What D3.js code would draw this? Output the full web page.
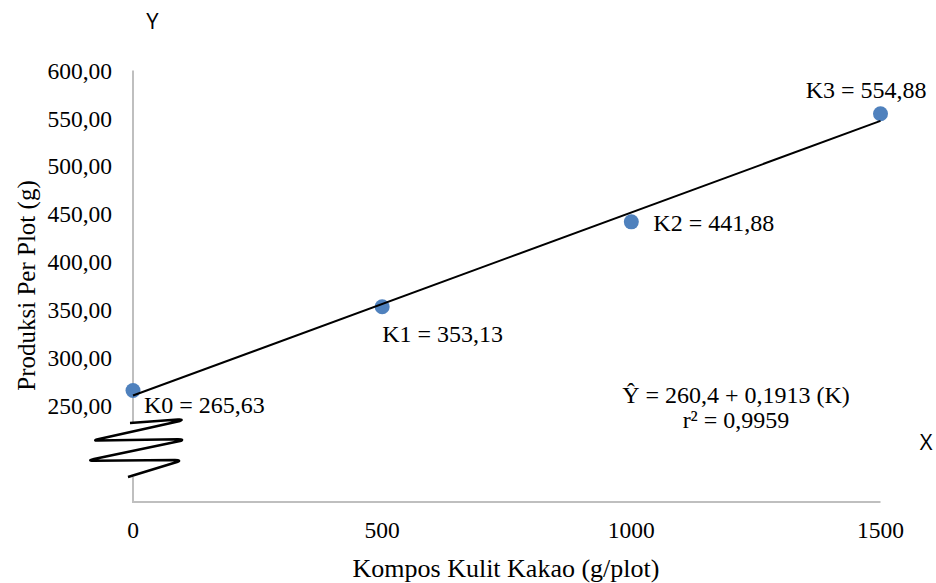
<!DOCTYPE html>
<html>
<head>
<meta charset="utf-8">
<script src="https://cdn.jsdelivr.net/npm/d3@7"></script>
<style>
  html, body { margin: 0; padding: 0; background: #fff; }
  svg { display: block; }
  .serif { font-family: "Liberation Serif", "Times New Roman", serif; fill: #000; }
  .sans { font-family: "Open Sans", "Liberation Sans", Arial, sans-serif; fill: #000; }
</style>
</head>
<body>
<svg id="chart" width="936" height="583"></svg>
<script>
// ---- data ----
const treatments = ["K0", "K1", "K2", "K3"];
const doses = [0, 500, 1000, 1500];
const production = [265.63, 353.13, 441.88, 554.88];
const productionLabels = ["265,63", "353,13", "441,88", "554,88"];
const yTicks = [250, 300, 350, 400, 450, 500, 550, 600];
const xTicks = [0, 500, 1000, 1500];
const regression = [260.4, 0.1913]; // intercept, slope
const equationText = ["Ŷ = 260,4 + 0,1913 (K)", "r² = 0,9959"];

const svg = d3.select("#chart");

const x = d3.scaleLinear().domain([0, 1500]).range([133, 880.5]);
const y = d3.scaleLinear().domain([250, 600]).range([405.5, 70.5]);
const axisY = 502;           // pixel position of the (broken) x-axis baseline
const breakTop = 422, breakBottom = 477;
const fmt = v => d3.format(".2f")(v).replace(".", ",");

// ---- axes (gray lines) ----
const axisColor = "#bfbfbf";
svg.append("line").attr("x1", x(0)).attr("x2", x(0))
  .attr("y1", y(600)).attr("y2", breakTop)
  .attr("stroke", axisColor).attr("stroke-width", 2);
svg.append("line").attr("x1", x(0)).attr("x2", x(0))
  .attr("y1", breakBottom).attr("y2", axisY + 1)
  .attr("stroke", axisColor).attr("stroke-width", 2);
svg.append("line").attr("x1", x(0)).attr("x2", x(1500))
  .attr("y1", axisY).attr("y2", axisY)
  .attr("stroke", axisColor).attr("stroke-width", 2);

// axis break squiggle
const ax = x(0);
const sq = `M${ax-3},${breakTop+1} L${ax+45},${breakTop-2.5} Q${ax+51},${breakTop-3} ${ax+47},${breakTop-1}
 L${ax-34},${breakTop+17} Q${ax-41},${breakTop+18.5} ${ax-35},${breakTop+18.5}
 L${ax+45},${breakTop+17.3} Q${ax+52},${breakTop+17.5} ${ax+47},${breakTop+19}
 L${ax-39},${breakTop+37} Q${ax-46},${breakTop+38.5} ${ax-40},${breakTop+38.7}
 L${ax+42},${breakTop+38} Q${ax+49},${breakTop+38.3} ${ax+44},${breakTop+40}
 L${ax-5},${breakBottom}`;
svg.append("path").attr("d", sq).attr("fill", "none")
  .attr("stroke", "#000").attr("stroke-width", 2.5).attr("stroke-linejoin", "round");

// ---- tick labels ----
svg.append("g").selectAll("text").data(yTicks).join("text")
  .attr("class", "serif")
  .attr("x", 112).attr("y", d => y(d)).attr("dy", "0.35em")
  .attr("text-anchor", "end").attr("font-size", 23.5)
  .text(d => fmt(d));

svg.append("g").selectAll("text").data(xTicks).join("text")
  .attr("class", "serif")
  .attr("x", d => x(d)).attr("y", 538)
  .attr("text-anchor", "middle").attr("font-size", 23.5)
  .text(d => d);

// ---- axis titles ----
svg.append("text").attr("class", "serif")
  .attr("transform", `translate(35,${285.5}) rotate(-90)`)
  .attr("text-anchor", "middle").attr("font-size", 25)
  .text("Produksi Per Plot (g)");
svg.append("text").attr("class", "serif")
  .attr("x", 506).attr("y", 577)
  .attr("text-anchor", "middle").attr("font-size", 26)
  .text("Kompos Kulit Kakao (g/plot)");

svg.append("text").attr("class", "sans")
  .attr("x", 152.5).attr("y", 29).attr("text-anchor", "middle").attr("font-size", 22)
  .text("Y");
svg.append("text").attr("class", "sans")
  .attr("x", 926).attr("y", 450).attr("text-anchor", "middle").attr("font-size", 22)
  .text("X");

// ---- points ----
const pts = doses.map((d, i) => ({ k: treatments[i], dose: d, v: production[i], lab: productionLabels[i] }));
svg.append("g").selectAll("circle").data(pts).join("circle")
  .attr("cx", d => x(d.dose)).attr("cy", d => y(d.v)).attr("r", 7.5)
  .attr("fill", "#4f81bd");

// ---- regression line ----
const reg = d => regression[0] + regression[1] * d;
svg.append("line")
  .attr("x1", x(0)).attr("y1", y(reg(0)))
  .attr("x2", x(1500)).attr("y2", y(reg(1500)))
  .attr("stroke", "#000").attr("stroke-width", 2);

// ---- point labels ----
const labelPos = [
  { dx: 11, dy: 22.5, anchor: "start" },
  { dx: 0, dy: 35, anchor: "start" },
  { dx: 22, dy: 9, anchor: "start" },
  { dx: 46, dy: -16, anchor: "end" }
];
svg.append("g").selectAll("text").data(pts).join("text")
  .attr("class", "serif")
  .attr("x", (d, i) => x(d.dose) + labelPos[i].dx)
  .attr("y", (d, i) => y(d.v) + labelPos[i].dy)
  .attr("text-anchor", (d, i) => labelPos[i].anchor)
  .attr("font-size", 24)
  .text(d => `${d.k} = ${d.lab}`);

// ---- equation ----
svg.append("g").selectAll("text").data(equationText).join("text")
  .attr("class", "serif")
  .attr("x", 736).attr("y", (d, i) => 403 + i * 25)
  .attr("text-anchor", "middle").attr("font-size", 24)
  .text(d => d);
</script>
</body>
</html>
